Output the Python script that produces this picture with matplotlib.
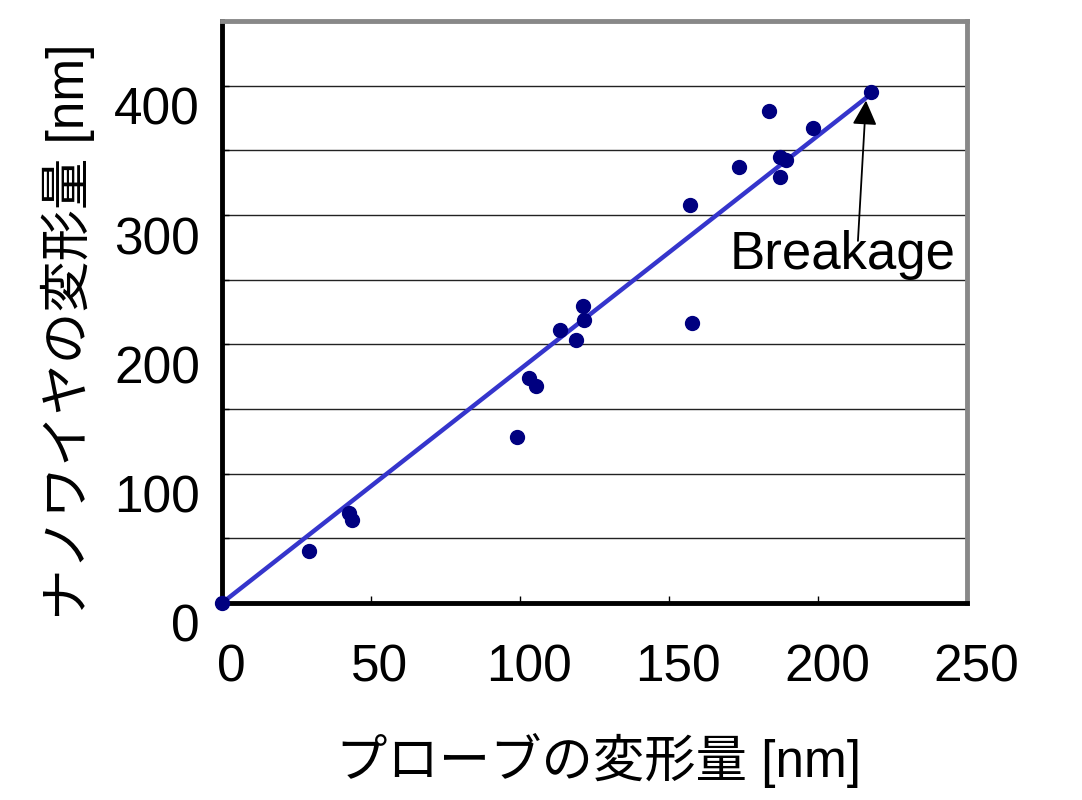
import matplotlib
matplotlib.use("Agg")
import matplotlib.pyplot as plt
import matplotlib.transforms as mtransforms
import numpy as np

# Data
probe_nm = [0.0, 29.2, 42.6, 43.6, 99.0, 103.0, 105.4, 113.4, 118.8, 121.1, 121.5,
            157.0, 157.7, 173.5, 183.6, 187.2, 187.2, 189.3, 198.3, 217.8]
wire_nm = [0.0, 40.2, 69.6, 64.1, 128.3, 173.9, 167.7, 211.0, 203.2, 229.5, 218.7,
           307.6, 216.4, 336.9, 380.2, 344.7, 329.2, 342.3, 367.1, 394.9]
fit_x = [0.0, 216.5]
fit_slope = 1.807
x_ticks = [0, 50, 100, 150, 200, 250]
y_ticks = [0, 100, 200, 300, 400]
y_grid = [50, 100, 150, 200, 250, 300, 350, 400]
annot_text = "Breakage"
xlabel = "プローブの変形量 [nm]"
ylabel = "ナノワイヤの変形量 [nm]"

plt.rcParams['font.family'] = ['Liberation Sans', 'Noto Sans CJK JP', 'DejaVu Sans']

fig = plt.figure(figsize=(10.82, 8.0), dpi=100)
ax = fig.add_axes([222/1082, 1-603/800, (967-222)/1082, (603-21)/800])

ax.set_xlim(0, 250)
ax.set_ylim(0, 450)

for g in y_grid:
    ax.axhline(g, color='#222222', lw=1.0, zorder=1)

fx = np.array(fit_x)
ax.plot(fx, fit_slope * fx, color='#3535CC', lw=3.2, zorder=2, solid_capstyle='butt')
ax.plot(probe_nm, wire_nm, 'o', color='#000080', ms=10, zorder=3, clip_on=False)

# annotation arrow
ax.annotate("", xy=(216.1, 388.5), xytext=(213.4, 280),
            arrowprops=dict(arrowstyle='-|>,head_length=0.5,head_width=0.25', color='black', lw=1.3,
                            mutation_scale=30, shrinkA=0, shrinkB=0), zorder=4)
ax.text(208.3, 269, annot_text, fontsize=38, ha='center', va='center', zorder=5)

# spines
for s in ['left', 'bottom']:
    ax.spines[s].set_color('black')
    ax.spines[s].set_linewidth(3.5)
for s in ['top', 'right']:
    ax.spines[s].set_color('#888888')
    ax.spines[s].set_linewidth(3.5)

ax.set_xticks(x_ticks)
ax.set_xticklabels([str(v) for v in x_ticks])
ax.set_yticks(y_ticks)
ax.set_yticklabels([str(v) for v in y_ticks])
ax.set_yticks(y_grid, minor=True)
ax.tick_params(axis='both', which='major', direction='in', length=5, width=1.0,
               labelsize=37, colors='black')
ax.tick_params(axis='y', which='minor', direction='in', length=5, width=1.0)
ax.tick_params(axis='x', pad=29)
ax.tick_params(axis='y', pad=16)

# offset tick labels like the reference
offx = mtransforms.ScaledTranslation(0.09, 0, fig.dpi_scale_trans)
for lab in ax.get_xticklabels():
    lab.set_transform(lab.get_transform() + offx)
offy = mtransforms.ScaledTranslation(0, -0.20, fig.dpi_scale_trans)
for lab in ax.get_yticklabels():
    lab.set_transform(lab.get_transform() + offy)

fig.text(598/1082, 1-760/800, xlabel, fontsize=37, ha='center', va='center')
fig.text(68/1082, 1-332/800, ylabel, fontsize=37, ha='center', va='center', rotation=90)

fig.savefig("out.png", dpi=100)
